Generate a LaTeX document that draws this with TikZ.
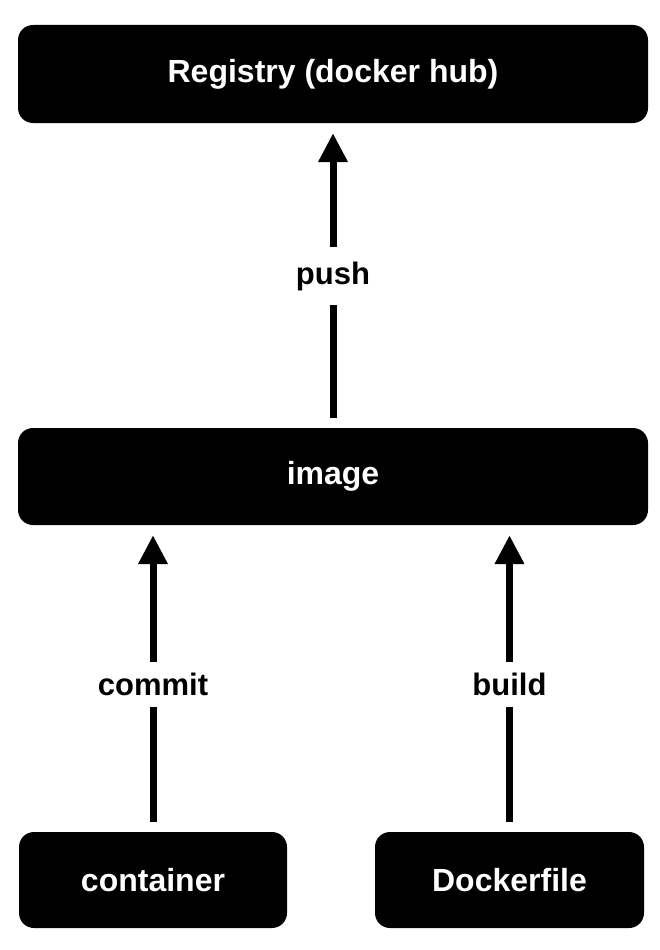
\documentclass[tikz,border=0pt]{standalone}
\usepackage{fontspec}
\setmainfont{Liberation Sans}
\usetikzlibrary{arrows.meta}
\tikzset{
  box/.style={fill=black, rounded corners=15pt, text=white, inner sep=0pt,
    font=\fontsize{32}{38}\selectfont\bfseries},
  lbl/.style={fill=white, inner xsep=2pt, inner ysep=0pt, text=black,
    font=\fontsize{31}{38}\selectfont\bfseries},
  arr/.style={line width=7pt, -{Triangle[length=29pt,width=28pt]},
    shorten >=10pt, shorten <=10pt}
}
\begin{document}
\begin{tikzpicture}[x=1pt,y=-1pt]
\useasboundingbox (0,0) rectangle (660,950);
\node[box, minimum width=630pt, minimum height=98pt] (reg) at (333,74) {Registry (docker hub)};
\node[box, minimum width=630pt, minimum height=97pt] (img) at (333,476.5) {image};
\node[box, minimum width=268pt, minimum height=96pt] (cont) at (153,880) {container};
\node[box, minimum width=269pt, minimum height=96pt] (dock) at (509.5,880) {Dockerfile};
\coordinate (imgL) at (img.south -| cont.north);
\coordinate (imgR) at (img.south -| dock.north);
\draw[arr] (img.north) -- (reg.south);
\draw[arr] (cont.north) -- (imgL);
\draw[arr] (dock.north) -- (imgR);
\node[lbl, minimum height=58pt] (push) at (333,276) {push};
\node[lbl, minimum height=45pt] (commit) at (153,684) {commit};
\node[lbl, minimum height=45pt] (build) at (509.5,684) {build};
\end{tikzpicture}
\end{document}
